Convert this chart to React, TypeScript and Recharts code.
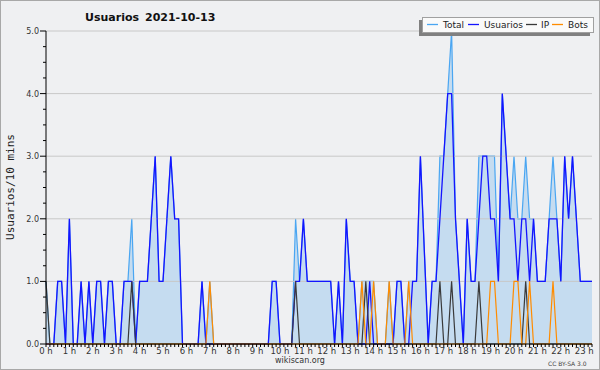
import { ComposedChart, Area, Line, XAxis, YAxis, ReferenceLine } from 'recharts';

// one value per 10 minutes, from 0:00 to 23:20 (one row per hour)
const total = [
  1, 0, 0, 1, 1, 0,
  2, 0, 0, 1, 0, 1,
  0, 1, 1, 0, 1, 1,
  0, 0, 1, 1, 2, 0,
  1, 1, 1, 2, 3, 1,
  1, 2, 3, 2, 2, 0,
  0, 0, 0, 0, 1, 0,
  1, 0, 0, 0, 0, 0,
  0, 0, 0, 0, 0, 0,
  0, 0, 0, 0, 1, 1,
  0, 0, 0, 0, 2, 1,
  2, 1, 1, 1, 1, 1,
  1, 1, 0, 1, 0, 2,
  1, 1, 0, 1, 1, 1,
  1, 0, 0, 0, 1, 0,
  1, 1, 0, 1, 1, 1,
  3, 1.5, 0, 1, 1, 3,
  3, 4, 5, 2, 1, 0,
  2, 1, 1, 3, 3, 3,
  3, 3, 1, 4, 3, 2,
  3, 2, 2, 3, 2, 2,
  1, 1, 1, 2, 3, 2,
  1, 3, 2, 3, 2, 1,
  1, 1, 1
];
const usuarios = [
  0, 0, 0, 1, 1, 0,
  2, 0, 0, 1, 0, 1,
  0, 1, 1, 0, 1, 1,
  0, 0, 1, 1, 1, 0,
  1, 1, 1, 2, 3, 1,
  1, 2, 3, 2, 2, 0,
  0, 0, 0, 0, 1, 0,
  0, 0, 0, 0, 0, 0,
  0, 0, 0, 0, 0, 0,
  0, 0, 0, 0, 1, 1,
  0, 0, 0, 0, 1, 1,
  2, 1, 1, 1, 1, 1,
  1, 1, 0, 1, 0, 2,
  1, 1, 0, 0, 0, 1,
  0, 0, 0, 0, 0, 0,
  1, 1, 0, 0, 1, 1,
  3, 1.5, 0, 1, 1, 2,
  3, 4, 4, 2, 1, 0,
  2, 1, 1, 2, 3, 3,
  2, 2, 1, 4, 3, 2,
  2, 1, 2, 2, 1, 2,
  1, 1, 1, 2, 2, 2,
  1, 3, 2, 3, 2, 1,
  1, 1, 1
];
const ip = [
  1, 0, 0, 0, 0, 0,
  0, 0, 0, 0, 0, 0,
  0, 0, 0, 0, 0, 0,
  0, 0, 0, 0, 1, 0,
  0, 0, 0, 0, 0, 0,
  0, 0, 0, 0, 0, 0,
  0, 0, 0, 0, 0, 0,
  0, 0, 0, 0, 0, 0,
  0, 0, 0, 0, 0, 0,
  0, 0, 0, 0, 0, 0,
  0, 0, 0, 0, 1, 0,
  0, 0, 0, 0, 0, 0,
  0, 0, 0, 0, 0, 0,
  0, 0, 0, 0, 1, 0,
  0, 0, 0, 0, 0, 0,
  0, 0, 0, 0, 0, 0,
  0, 0, 0, 0, 0, 1,
  0, 0, 1, 0, 0, 0,
  0, 0, 0, 1, 0, 0,
  0, 0, 0, 0, 0, 0,
  0, 0, 0, 1, 0, 0,
  0, 0, 0, 0, 0, 0,
  0, 0, 0, 0, 0, 0,
  0, 0, 0
];
const bots = [
  0, 0, 0, 0, 0, 0,
  0, 0, 0, 0, 0, 0,
  0, 0, 0, 0, 0, 0,
  0, 0, 0, 0, 0, 0,
  0, 0, 0, 0, 0, 0,
  0, 0, 0, 0, 0, 0,
  0, 0, 0, 0, 0, 0,
  1, 0, 0, 0, 0, 0,
  0, 0, 0, 0, 0, 0,
  0, 0, 0, 0, 0, 0,
  0, 0, 0, 0, 0, 0,
  0, 0, 0, 0, 0, 0,
  0, 0, 0, 0, 0, 0,
  0, 0, 0, 1, 0, 0,
  1, 0, 0, 0, 1, 0,
  0, 0, 0, 1, 0, 0,
  0, 0, 0, 0, 0, 0,
  0, 0, 0, 0, 0, 0,
  0, 0, 0, 0, 0, 0,
  1, 1, 0, 0, 0, 0,
  1, 1, 0, 0, 1, 0,
  0, 0, 0, 0, 1, 0,
  0, 0, 0, 0, 0, 0,
  0, 0, 0
];

const Y_TICKS = [0, 0.25, 0.5, 0.75, 1, 1.25, 1.5, 1.75, 2, 2.25, 2.5, 2.75, 3, 3.25, 3.5, 3.75, 4, 4.25, 4.5, 4.75, 5];
const GRID = [1, 2, 3, 4, 5];
const X_TICKS = total.map((_, i) => i);

const COLORS = { total: '#4aa6f2', usuarios: '#1414ff', ip: '#3a3a3a', bots: '#ff8c00' };
// legend entries: label, line start, text start (page px)
const LEGEND = [
  { name: 'Total', color: COLORS.total, lx: 427, tx: 443 },
  { name: 'Usuarios', color: COLORS.usuarios, lx: 468, tx: 484 },
  { name: 'IP', color: COLORS.ip, lx: 526, tx: 541 },
  { name: 'Bots', color: COLORS.bots, lx: 552, tx: 568 }
];

const data = total.map((t, i) => ({ slot: i, total: t, usuarios: usuarios[i], ip: ip[i], bots: bots[i] }));

const FONT = 'DejaVu Sans, Verdana, sans-serif';

const XTick = (props: any) => {
  const { x, y, payload } = props;
  const v = payload.value;
  const major = v % 6 === 0;
  return <g>
      <line x1={x} x2={x} y1={y} y2={y + 3} stroke="#000" />
      {major && <text x={x} y={y + 10} textAnchor="middle" fontSize={8.5} fill="#333" fontFamily={FONT}>{`${v / 6} h`}</text>}
    </g>;
};

const YTick = (props: any) => {
  const { x, y, payload } = props;
  const v = payload.value;
  const major = Number.isInteger(v);
  return <g>
      <line x1={x - (major ? 6 : 3)} x2={x} y1={y} y2={y} stroke="#000" />
      {major && <text x={x - 7} y={y + 3} textAnchor="end" fontSize={8} fill="#333" fontFamily={FONT}>{v.toFixed(1)}</text>}
    </g>;
};

export default function App() {
  return <div style={{ position: 'absolute', left: 0, top: 0, width: 600, height: 370, boxSizing: 'border-box', border: '1px solid #a8a8a8', background: '#eff0f2' }}>
      <ComposedChart width={598} height={368} data={data} margin={{ top: 30, right: 7, bottom: 0, left: 0 }}>
        {GRID.map(g => <ReferenceLine key={g} y={g} stroke="#c8c8c8" strokeWidth={1} />)}
        <XAxis dataKey="slot" type="number" domain={[0, 140]} ticks={X_TICKS} interval={0} height={25} tickSize={0} tickMargin={0} tick={<XTick />} axisLine={{ stroke: '#000' }} tickLine={false} />
        <YAxis type="number" domain={[0, 5]} ticks={Y_TICKS} interval={0} width={45} tickSize={0} tickMargin={0} tick={<YTick />} axisLine={{ stroke: '#000' }} tickLine={false} />
        <Area type="linear" dataKey="total" name="Total" stroke={COLORS.total} strokeWidth={1.2} fill="#c5dcf0" fillOpacity={1} dot={false} isAnimationActive={false} />
        <Line type="linear" dataKey="usuarios" name="Usuarios" stroke={COLORS.usuarios} strokeWidth={1.3} dot={false} isAnimationActive={false} />
        <Line type="linear" dataKey="ip" name="IP" stroke={COLORS.ip} strokeWidth={1.2} dot={false} isAnimationActive={false} />
        <Line type="linear" dataKey="bots" name="Bots" stroke={COLORS.bots} strokeWidth={1.2} dot={false} isAnimationActive={false} />
      </ComposedChart>
      <svg width={600} height={370} style={{ position: 'absolute', left: -1, top: -1, pointerEvents: 'none' }}>
        <text x={85} y={21} fontSize={11} fontWeight="bold" fill="#111" fontFamily={FONT}>Usuarios</text>
        <text x={145} y={21} fontSize={11} fontWeight="bold" fill="#111" fontFamily={FONT}>2021-10-13</text>
        <text x={14} y={187} transform="rotate(-90 14 187)" textAnchor="middle" fontSize={11} fill="#222" fontFamily="DejaVu Sans Mono, monospace">Usuarios/10 mins</text>
        <text x={300} y={363} textAnchor="middle" fontSize={8} fill="#333" fontFamily={FONT}>wikiscan.org</text>
        <text x={548} y={366} fontSize={6} fill="#444" fontFamily={FONT}>CC BY-SA 3.0</text>
        <rect x={419} y={20} width={171} height={16} fill="#808080" />
        <rect x={422.5} y={17.5} width={171} height={15} fill="#fafafa" stroke="#a0a0a0" />
        {LEGEND.map(l => <g key={l.name}>
            <line x1={l.lx} x2={l.lx + 11} y1={24.5} y2={24.5} stroke={l.color} strokeWidth={1.3} />
            <text x={l.tx} y={28} fontSize={9} fill="#222" fontFamily={FONT}>{l.name}</text>
          </g>)}
      </svg>
    </div>;
}
